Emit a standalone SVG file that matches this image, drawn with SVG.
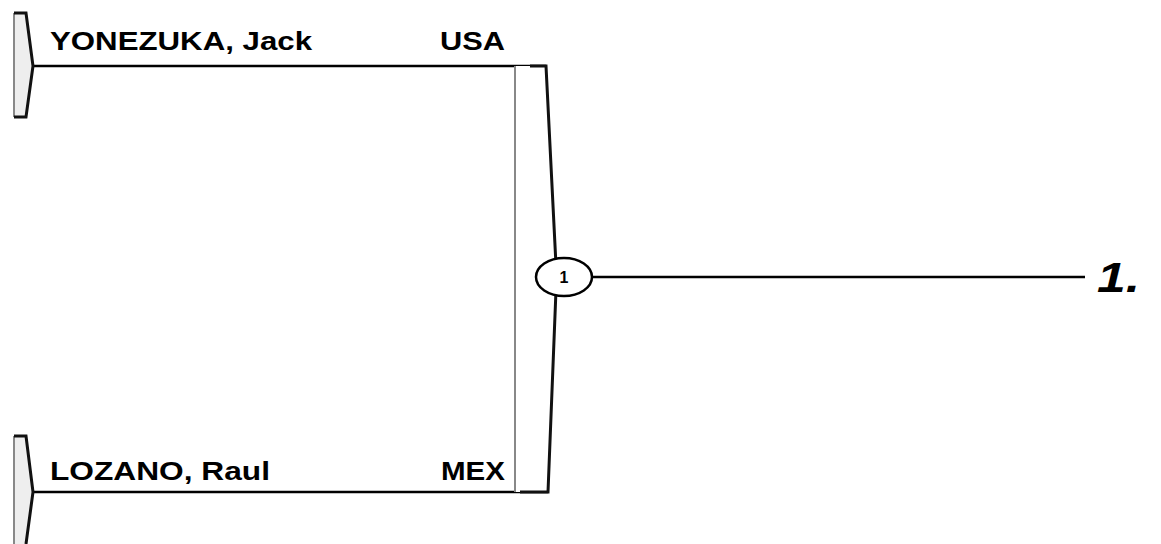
<svg xmlns="http://www.w3.org/2000/svg" width="1161" height="544" viewBox="0 0 1161 544">
<style>
.name{font-family:"Liberation Sans",Arial,sans-serif;font-weight:bold;font-size:26px;fill:#000}
.line{stroke:#000;stroke-width:2.5;fill:none}
.dark{stroke:#111;stroke-width:3;fill:none}
.light{stroke:#888;stroke-width:2;fill:none}
</style>
<rect width="1161" height="544" fill="#fff"/>
<g id="connectors">
<line class="line" x1="33" y1="66" x2="546" y2="66"/>
<line class="line" x1="33" y1="492" x2="548" y2="492"/>
<line class="line" x1="592" y1="277" x2="1085" y2="277"/>
</g>
<g id="entry-top">
<path d="M14,13 L26,13 L33,66 L26,117 L14,117 Z" fill="#eee" stroke="none"/>
<line class="light" x1="14" y1="13" x2="14" y2="117"/>
<path class="dark" d="M14,13 L26,13 L33,66 L26,117 L14,117"/>
<text class="name" x="50" y="50" textLength="262" lengthAdjust="spacingAndGlyphs">YONEZUKA, Jack</text>
<text class="name" x="440" y="50" textLength="65" lengthAdjust="spacingAndGlyphs">USA</text>
</g>
<g id="entry-bottom">
<path d="M14,436 L26,436 L33,492 L26,544 L14,544 Z" fill="#eee" stroke="none"/>
<line class="light" x1="14" y1="436" x2="14" y2="544"/>
<path class="dark" d="M14,436 L26,436 L33,492 L26,544"/>
<text class="name" x="50" y="480" textLength="220" lengthAdjust="spacingAndGlyphs">LOZANO, Raul</text>
<text class="name" x="441" y="480" textLength="64" lengthAdjust="spacingAndGlyphs">MEX</text>
</g>
<g id="match-1">
<path d="M515,66 L546,66 L556,265 L556,290 L548,492 L515,492 Z" fill="#fff" stroke="none"/>
<line class="light" x1="515" y1="66" x2="515" y2="492"/>
<path class="dark" d="M530,66 L546,66 L556,265"/>
<path class="dark" d="M556,290 L548,492 L520,492"/>
<ellipse cx="564" cy="277" rx="28" ry="19" fill="#fff" stroke="#000" stroke-width="2.5"/>
<text x="564" y="283" text-anchor="middle" style="font-family:'Liberation Sans',Arial,sans-serif;font-weight:bold;font-size:16px">1</text>
</g>
<g id="result">
<text x="1097" y="292" textLength="43" lengthAdjust="spacingAndGlyphs" style="font-family:'Liberation Sans',Arial,sans-serif;font-weight:bold;font-style:italic;font-size:42px">1.</text>
</g>
</svg>
